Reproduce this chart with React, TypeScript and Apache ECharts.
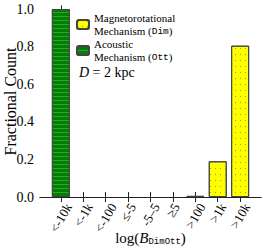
import React, { useEffect, useRef } from 'react';
import * as echarts from 'echarts';

const categories = ['<-10k', '<-1k', '<-100', '≤-5', '-5–5', '≥5', '>100', '>1k', '>10k'];
const magnetoValues = [0, 0, 0, 0, 0, 0, 0.006, 0.19, 0.805];
const acousticValues = [1.0, 0, 0, 0, 0, 0, 0, 0, 0];
const yTicks = [0, 0.2, 0.4, 0.6, 0.8, 1.0];
const seriesNames = ['Magnetorotational (Dim)', 'Acoustic (Ott)'];

export default function App() {
  const ref = useRef<HTMLDivElement>(null);
  useEffect(() => {
    document.body.style.margin = '0';
    const chart = echarts.init(ref.current!, null, { renderer: 'svg' });
    const serif = 'Liberation Serif';
    const mono = 'Liberation Mono';
    const xMin = -0.93;
    const xMax = 8.93;
    const tickIdx = categories.map((_, i) => i);
    const lineStyle = { color: '#222', width: 1 };
    const baseX: any = {
      type: 'value',
      min: xMin,
      max: xMax,
      axisLine: { show: true, lineStyle },
      axisTick: { show: true, inside: true, length: 5, customValues: tickIdx, lineStyle },
      axisLabel: { show: false },
      splitLine: { show: false },
    };
    const baseY: any = {
      type: 'value',
      min: 0,
      max: 1.016,
      axisLine: { show: true, lineStyle },
      axisTick: { show: true, inside: true, length: 5, customValues: yTicks, lineStyle },
      splitLine: { show: false },
    };
    const toData = (vals: number[]) =>
      vals.map((v, i) => [i, v]).filter((d) => d[1] > 0);

    chart.setOption({
      animation: false,
      textStyle: { fontFamily: serif },
      grid: { left: 40, right: 5, top: 6, bottom: 52, containLabel: false, outerBoundsMode: 'none' },
      xAxis: [
        { ...baseX, position: 'bottom' },
        { ...baseX, position: 'top' },
      ],
      yAxis: [
        {
          ...baseY,
          position: 'left',
          axisLabel: {
            show: true,
            customValues: yTicks,
            formatter: (v: number) => v.toFixed(1),
            fontFamily: serif,
            fontSize: 14,
            color: '#000',
            margin: 6,
          },
          name: 'Fractional Count',
          nameLocation: 'middle',
          nameGap: 22,
          nameMoveOverlap: false,
          nameTextStyle: { fontFamily: serif, fontSize: 16, color: '#000' },
        },
        { ...baseY, position: 'right', axisLabel: { show: false } },
      ],
      legend: {
        data: seriesNames,
        orient: 'vertical',
        left: 76,
        top: 11.5,
        padding: 0,
        itemGap: 0,
        itemWidth: 12,
        itemHeight: 9,
        formatter: (name: string) =>
          name === seriesNames[0]
            ? '{t|Magnetorotational}\n{t|Mechanism (}{m|Dim}{t|)}'
            : '{t|Acoustic}\n{t|Mechanism (}{m|Ott}{t|)}',
        textStyle: {
          fontFamily: serif,
          fontSize: 11,
          lineHeight: 13,
          color: '#000',
          rich: {
            t: { fontFamily: serif, fontSize: 11, lineHeight: 13, color: '#000' },
            m: { fontFamily: mono, fontSize: 9.5, lineHeight: 13, color: '#000' },
          },
        },
      },
      series: [
        {
          name: seriesNames[0],
          type: 'bar',
          xAxisIndex: 0,
          yAxisIndex: 0,
          barWidth: 18,
          barGap: '-100%',
          data: toData(magnetoValues),
          itemStyle: {
            color: '#ffff00',
            borderColor: '#444',
            borderWidth: 1,
            decal: {
              symbol: 'rect',
              symbolSize: 1,
              dashArrayX: [1, 4],
              dashArrayY: [1, 5],
              color: '#9a9a40',
            },
          },
        },
        {
          name: seriesNames[1],
          type: 'bar',
          xAxisIndex: 0,
          yAxisIndex: 0,
          barWidth: 18,
          barGap: '-100%',
          data: toData(acousticValues),
          itemStyle: {
            color: '#008000',
            borderColor: '#444',
            borderWidth: 1,
            decal: {
              symbol: 'rect',
              symbolSize: 1,
              dashArrayX: [1, 0],
              dashArrayY: [1, 3],
              color: 'rgba(150,220,150,0.35)',
            },
          },
        },
      ],
    });

    // rotated category labels, bbox centred on each tick (computed from the axis scale)
    const labelFont = 13;
    const theta = (60 * Math.PI) / 180;
    const ctx = document.createElement('canvas').getContext('2d')!;
    ctx.font = `${labelFont}px "Liberation Serif"`;
    const axisY = chart.convertToPixel({ yAxisIndex: 0 }, 0) as number;
    const labelEls = categories.map((c, i) => {
      const x = chart.convertToPixel({ xAxisIndex: 0 }, i) as number;
      const L = ctx.measureText(c).width;
      const h = labelFont;
      const H = L * Math.sin(theta) + h * Math.cos(theta);
      return {
        type: 'text',
        x,
        y: axisY + 4 + H / 2,
        rotation: theta,
        style: {
          text: c,
          fontFamily: serif,
          fontSize: labelFont,
          fill: '#000',
          align: 'center',
          verticalAlign: 'middle',
        },
      };
    });

    const x0 = chart.convertToPixel({ xAxisIndex: 0 }, xMin) as number;
    const x1 = chart.convertToPixel({ xAxisIndex: 0 }, xMax) as number;

    chart.setOption({
      graphic: [
        ...labelEls,
        {
          type: 'text',
          x: (x0 + x1) / 2,
          y: 238,
          style: {
            text: '{a|log(}{b|B}{s|DimOtt}{a|)}',
            align: 'center',
            verticalAlign: 'middle',
            fill: '#000',
            rich: {
              a: { fontFamily: serif, fontSize: 15, color: '#000' },
              b: { fontFamily: serif, fontSize: 15, fontStyle: 'italic', color: '#000' },
              s: { fontFamily: mono, fontSize: 9, padding: [8, 0, 0, 0], color: '#000' },
            },
          },
        },
        {
          type: 'text',
          x: 79,
          y: 72,
          style: {
            text: '{i|D} = 2 kpc',
            fontFamily: serif,
            fontSize: 14,
            fill: '#000',
            align: 'left',
            verticalAlign: 'middle',
            rich: {
              i: { fontFamily: serif, fontSize: 14, fontStyle: 'italic', color: '#000' },
            },
          },
        },
      ],
    });

    return () => chart.dispose();
  }, []);
  return <div ref={ref} style={{ width: 266, height: 249 }} />;
}
